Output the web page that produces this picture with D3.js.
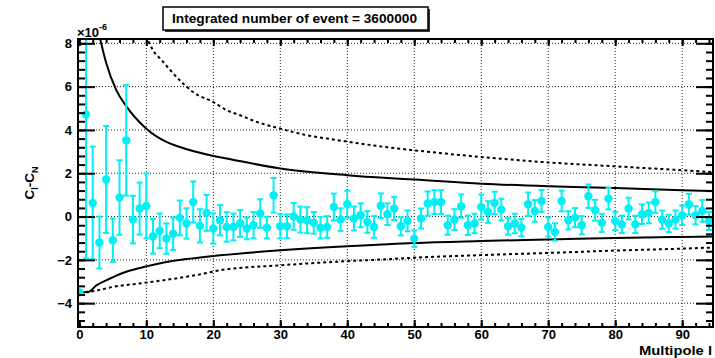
<!DOCTYPE html>
<html>
<head>
<meta charset="utf-8">
<script src="https://cdn.jsdelivr.net/npm/d3@7"></script>
<style>
  body { margin: 0; background: #fff; }
  svg text { font-family: "Liberation Sans", Arial, Helvetica, sans-serif; font-weight: bold; }
</style>
</head>
<body>
<svg width="715" height="358"></svg>
<script>
// measured C_l - C_N (x1e-6) per multipole, with errors
const multipoles = d3.range(0, 95);
const deltaC = [
  -3.5, 4.71, 0.63, -1.2, 1.71, -1.09, 0.88, 3.52, -0.14, 0.37,
  0.49, -0.91, -0.66, -1.02, -0.79, -0.06, -0.32, 0.67, -0.43, 0.17,
  -0.55, -0.17, -0.48, -0.48, -0.32, -0.55, -0.40, 0.14, -0.51, 0.98,
  -0.45, -0.45, 0.01, -0.14, -0.17, -0.29, -0.51, -0.48, 0.44, -0.14,
  0.57, -0.09, 0.06, -0.25, -0.48, 0.50, 0.11, 0.37, -0.45, -0.20,
  -1.02, -0.09, 0.60, 0.67, 0.67, -0.40, -0.14, 0.48, -0.40, -0.32,
  0.44, 0.21, 0.63, 0.32, -0.45, -0.32, -0.51, 0.57, 0.26, 0.72,
  -0.48, -0.71, 0.72, -0.17, -0.05, -0.40, 0.94, 0.29, -0.29, 0.83,
  -0.20, -0.36, 0.37, -0.36, 0.11, 0.17, 0.67, -0.14, -0.32, -0.14,
  0.06, 0.57, 0.06, 0.26, -0.20
];
const deltaErr = [
  0, 6.65, 2.6, 1.2, 2.47, 1.0, 1.72, 2.55, 1.1, 1.2,
  1.5, 0.8, 0.8, 0.7, 0.75, 0.8, 0.7, 0.95, 0.77, 0.83,
  0.7, 0.7, 0.68, 0.62, 0.62, 0.5, 0.6, 0.66, 0.5, 0.8,
  0.56, 0.55, 0.62, 0.6, 0.6, 0.5, 0.5, 0.5, 0.62, 0.52,
  0.62, 0.55, 0.55, 0.5, 0.5, 0.57, 0.5, 0.53, 0.42, 0.48,
  0.38, 0.46, 0.56, 0.55, 0.55, 0.44, 0.48, 0.54, 0.45, 0.45,
  0.58, 0.5, 0.52, 0.5, 0.38, 0.45, 0.4, 0.54, 0.5, 0.5,
  0.44, 0.4, 0.48, 0.42, 0.44, 0.42, 0.54, 0.48, 0.42, 0.5,
  0.42, 0.4, 0.5, 0.4, 0.45, 0.48, 0.5, 0.42, 0.4, 0.42,
  0.45, 0.48, 0.42, 0.5, 0.42
];

// band curves (solid = inner band, dotted = outer band)
const solidUpL = [3, 4, 5.5, 7, 10, 13, 15, 20, 22, 30, 40, 46, 50, 60, 70, 80, 90, 94.6];
const solidUpV = [8.35, 7.1, 5.85, 5.1, 4.06, 3.45, 3.21, 2.8, 2.68, 2.22, 1.91, 1.78, 1.71, 1.52, 1.40, 1.32, 1.22, 1.18];
const solidLoL = [0, 1.2, 2.6, 4.6, 7, 10, 13, 16, 18, 21, 30, 40, 46, 50, 60, 70, 80, 90, 94.6];
const solidLoV = [-3.5, -3.5, -3.17, -2.86, -2.55, -2.3, -2.10, -1.96, -1.89, -1.79, -1.56, -1.37, -1.28, -1.22, -1.13, -1.06, -0.99, -0.94, -0.92];
const dotUpL = [10.3, 11, 12.3, 13.8, 15.5, 17.3, 20, 22, 24, 26.5, 30, 33.9, 37.9, 46, 50, 60, 70, 80, 90, 94.6];
const dotUpV = [8.1, 7.68, 7.22, 6.68, 6.14, 5.68, 5.29, 4.91, 4.68, 4.37, 4.06, 3.76, 3.56, 3.2, 3.06, 2.75, 2.5, 2.32, 2.14, 2.05];
const dotLoL = [0, 2, 5, 10, 18, 21, 30, 40, 46, 50, 60, 70, 80, 90, 94.6];
const dotLoV = [-3.5, -3.45, -3.25, -3.05, -2.67, -2.48, -2.25, -2.06, -1.97, -1.9, -1.78, -1.68, -1.57, -1.48, -1.43];

const xTicks = [0, 10, 20, 30, 40, 50, 60, 70, 80, 90];
const yTicks = [-4, -2, 0, 2, 4, 6, 8];
const titleText = "Integrated number of event = 3600000";

const svg = d3.select("svg");
const x = d3.scaleLinear().domain([-0.2, 94.6]).range([78, 713]);
const y = d3.scaleLinear().domain([-5.1, 8.2]).range([327, 39]);
const [plotL, plotR] = x.range();
const [plotB, plotT] = y.range();

svg.append("clipPath").attr("id", "plot")
  .append("rect")
  .attr("x", plotL).attr("y", plotT)
  .attr("width", plotR - plotL).attr("height", plotB - plotT);

// grid
const grid = svg.append("g")
  .attr("stroke", "#222").attr("stroke-width", 1).attr("stroke-dasharray", "1,2");
grid.selectAll(".gx").data(xTicks.filter(d => d > 0)).join("line")
  .attr("x1", d => x(d)).attr("x2", d => x(d))
  .attr("y1", plotT).attr("y2", plotB);
grid.selectAll(".gy").data(yTicks).join("line")
  .attr("x1", plotL).attr("x2", plotR)
  .attr("y1", d => y(d)).attr("y2", d => y(d));

// band lines
const plot = svg.append("g").attr("clip-path", "url(#plot)");
function curve(ls, vs) {
  return d3.line().curve(d3.curveMonotoneX)
    .x(d => x(d[0])).y(d => y(d[1]))(d3.zip(ls, vs));
}
plot.append("path").attr("d", curve(solidUpL, solidUpV))
  .attr("fill", "none").attr("stroke", "#000").attr("stroke-width", 2);
plot.append("path").attr("d", curve(solidLoL, solidLoV))
  .attr("fill", "none").attr("stroke", "#000").attr("stroke-width", 2);
plot.append("path").attr("d", curve(dotUpL, dotUpV))
  .attr("fill", "none").attr("stroke", "#000").attr("stroke-width", 2)
  .attr("stroke-dasharray", "3,3");
plot.append("path").attr("d", curve(dotLoL, dotLoV))
  .attr("fill", "none").attr("stroke", "#000").attr("stroke-width", 2)
  .attr("stroke-dasharray", "3,3");

// data points with error bars
const cyan = "#00f0f4";
const pts = multipoles.map((l, i) => ({ l, v: deltaC[i], e: deltaErr[i] }));
const bars = plot.append("g").attr("stroke", cyan).attr("stroke-width", 2);
bars.selectAll(".eb").data(pts.filter(d => d.e > 0)).join("line")
  .attr("x1", d => x(d.l)).attr("x2", d => x(d.l))
  .attr("y1", d => y(d.v + d.e)).attr("y2", d => y(d.v - d.e));
bars.selectAll(".capT").data(pts.filter(d => d.e > 0)).join("line")
  .attr("x1", d => x(d.l) - 3).attr("x2", d => x(d.l) + 3)
  .attr("y1", d => y(d.v + d.e)).attr("y2", d => y(d.v + d.e));
bars.selectAll(".capB").data(pts.filter(d => d.e > 0)).join("line")
  .attr("x1", d => x(d.l) - 3).attr("x2", d => x(d.l) + 3)
  .attr("y1", d => y(d.v - d.e)).attr("y2", d => y(d.v - d.e));
plot.append("g").selectAll("circle").data(pts).join("circle")
  .attr("cx", d => x(d.l)).attr("cy", d => y(d.v)).attr("r", 4.2)
  .attr("fill", cyan);

// axes (ROOT style, ticks inward)
const yMinor = d3.range(-5.2, 8.21, 0.4).map(d => +d.toFixed(1)).filter(d => d >= -5.1);
const xMinor = d3.range(0, 95, 2);

function styleAxis(g, size) {
  g.select(".domain").remove();
  g.selectAll(".tick line").attr("stroke", "#000").attr("stroke-width", 2);
  g.selectAll("text").attr("font-size", size).attr("fill", "#000");
}

svg.append("g").attr("transform", `translate(${plotL},0)`)
  .call(d3.axisLeft(y).tickValues(yMinor).tickSize(-7).tickFormat(""))
  .call(g => styleAxis(g, 13));
svg.append("g").attr("transform", `translate(${plotL},0)`)
  .call(d3.axisLeft(y).tickValues(yTicks).tickSize(-17).tickPadding(6).tickFormat(d3.format("d")))
  .call(g => styleAxis(g, 13));
svg.append("g").attr("transform", `translate(${plotR},0)`)
  .call(d3.axisRight(y).tickValues(yMinor).tickSize(-7).tickFormat(""))
  .call(g => styleAxis(g, 13));
svg.append("g").attr("transform", `translate(${plotR},0)`)
  .call(d3.axisRight(y).tickValues(yTicks).tickSize(-17).tickFormat(""))
  .call(g => styleAxis(g, 13));
svg.append("g").attr("transform", `translate(0,${plotB})`)
  .call(d3.axisBottom(x).tickValues(xMinor).tickSize(-4).tickFormat(""))
  .call(g => styleAxis(g, 13));
svg.append("g").attr("transform", `translate(0,${plotB})`)
  .call(d3.axisBottom(x).tickValues(xTicks).tickSize(-7).tickPadding(3).tickFormat(d3.format("d")))
  .call(g => styleAxis(g, 13));
svg.append("g").attr("transform", `translate(0,${plotT})`)
  .call(d3.axisTop(x).tickValues(xMinor).tickSize(-4).tickFormat(""))
  .call(g => styleAxis(g, 13));
svg.append("g").attr("transform", `translate(0,${plotT})`)
  .call(d3.axisTop(x).tickValues(xTicks).tickSize(-7).tickFormat(""))
  .call(g => styleAxis(g, 13));

// frame
svg.append("rect")
  .attr("x", plotL).attr("y", plotT)
  .attr("width", plotR - plotL).attr("height", plotB - plotT)
  .attr("fill", "none").attr("stroke", "#000").attr("stroke-width", 2);

// exponent label
const expo = svg.append("text").attr("x", 77).attr("y", 37).attr("font-size", 13).attr("fill", "#000");
expo.append("tspan").text("\u00d710");
expo.append("tspan").attr("dy", -7).attr("font-size", 9).text("-6");

// axis titles
svg.append("text")
  .attr("x", plotR - 1).attr("y", 354.5)
  .attr("text-anchor", "end").attr("font-size", 13)
  .attr("textLength", 73).attr("lengthAdjust", "spacingAndGlyphs")
  .text("Multipole l");

const yt = svg.append("text")
  .attr("transform", `translate(34,${(plotT + plotB) / 2}) rotate(-90)`)
  .attr("text-anchor", "middle").attr("font-size", 13.5);
yt.append("tspan").text("C");
yt.append("tspan").attr("dy", 4).attr("font-size", 9).text("l");
yt.append("tspan").attr("dy", -4).text("-C");
yt.append("tspan").attr("dy", 4).attr("font-size", 9).text("N");

// title box
svg.append("rect").attr("x", 165).attr("y", 9).attr("width", 265).attr("height", 23).attr("fill", "#333");
svg.append("rect").attr("x", 163).attr("y", 7).attr("width", 265).attr("height", 23)
  .attr("fill", "#fff").attr("stroke", "#000").attr("stroke-width", 1.5);
svg.append("text").attr("x", 172).attr("y", 23)
  .attr("font-size", 12).attr("textLength", 245).attr("lengthAdjust", "spacingAndGlyphs")
  .text(titleText);
</script>
</body>
</html>
